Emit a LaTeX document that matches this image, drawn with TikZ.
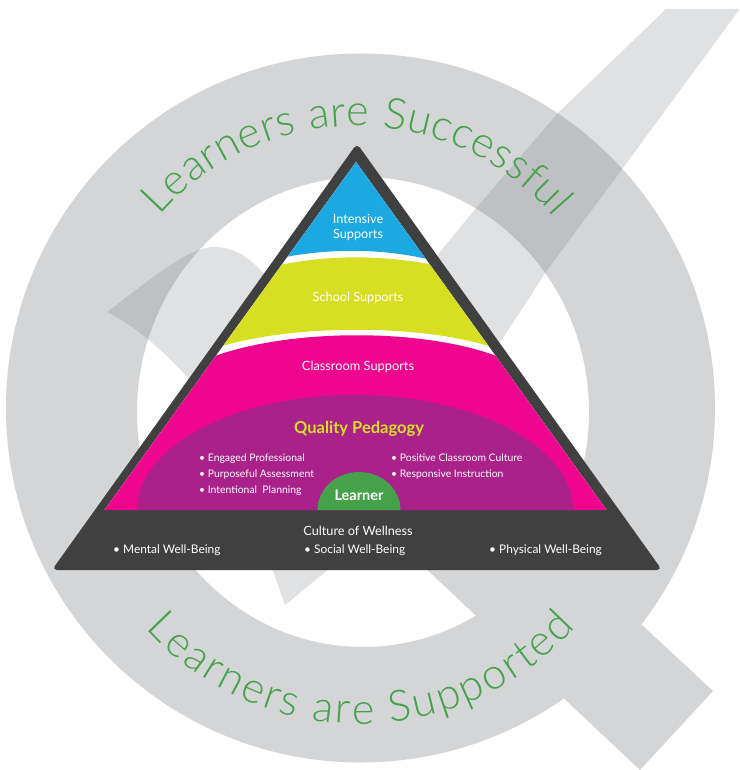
\documentclass[tikz,border=0pt]{standalone}
\usepackage{fontspec}
\setmainfont{Lato}
\newfontfamily\thinfont{Lato Light}
\usetikzlibrary{decorations.text}
\definecolor{ringc}{HTML}{D4D5D7}
\definecolor{checkc}{HTML}{E0E1E3}
\definecolor{overc}{HTML}{BFC0C4}
\definecolor{darkc}{HTML}{404041}
\definecolor{greenc}{HTML}{46A24A}
\definecolor{bluec}{HTML}{1CA9E1}
\definecolor{yellowc}{HTML}{D7DF23}
\definecolor{pinkc}{HTML}{EE068F}
\definecolor{purplec}{HTML}{AA2289}
\newcommand{\ringpath}{(360.5,408) circle[radius=354.5pt] (363,412) ellipse[x radius=226pt,y radius=235pt]}
\newcommand{\checkpath}{(107,312) .. controls (150,280) and (190,245) .. (217,247) .. controls (235,248) and (250,258) .. (263,273) -- (320,300) -- (435,258) -- (477,207) -- (558,113) -- (666,9) -- (739,9) -- (739,10) -- (623,168) -- (545,273) -- (528,300) -- (495,350) -- (330,568) -- (285,605) -- (272,568) -- (190,380) .. controls (170,358) and (140,328) .. (107,312) -- cycle}
\tikzset{
  lab/.style={text=white,font=\fontsize{#1}{#1}\selectfont,inner sep=0pt},
  itemlab/.style={lab=#1,anchor=base west},
  arcgreen/.style={decorate,decoration={text along path,text align={fit to path},text color=greenc,text={#1}}}
}
\begin{document}
\begin{tikzpicture}[x=1pt,y=-1pt]
\useasboundingbox (0,0) rectangle (739,770);
\fill[white] (0,0) rectangle (739,770);
% check mark
\fill[checkc] \checkpath;
% Q ring and tail
\fill[ringc,even odd rule] \ringpath;
\fill[ringc] (640,623) -- (713,691) -- (640,770) -- (420,563) -- (450,520) -- (565,548) -- cycle;
\begin{scope}
  \clip \checkpath;
  \fill[overc,even odd rule] \ringpath;
\end{scope}
% arc titles
\path[arcgreen={|\thinfont\fontsize{43}{43}\selectfont|Learners are Successful}] (159.8,215.4) arc[start angle=139,end angle=40.5,radius=260pt];
\path[arcgreen={|\thinfont\fontsize{43}{43}\selectfont|Learners are Supported}] (146,628.7) arc[start angle=222,end angle=318.5,radius=288pt];
% pyramid
\fill[darkc,rounded corners=5pt] (357,143.5) -- (662,570) -- (52,570) -- cycle;
\begin{scope}
  \clip (356,162) -- (606.5,510) -- (104.5,510) -- cycle;
  \fill[white] (90,150) rectangle (620,510);
  \fill[bluec] (280,258) .. controls (330,248) and (385,248) .. (435,261) -- (435,150) -- (280,150) -- cycle;
  \fill[yellowc] (275,266) .. controls (330,254) and (385,255) .. (440,266) -- (510,354) .. controls (440,322) and (280,322) .. (205,352) -- cycle;
  \fill[pinkc] (200,362) .. controls (280,326) and (440,326) .. (515,364) -- (620,510) -- (90,510) -- cycle;
  \fill[purplec] (355,510) ellipse[x radius=218pt,y radius=115pt];
  \fill[greenc] (359,510) ellipse[x radius=41.5pt,y radius=38pt];
\end{scope}
% labels
\node[lab=12.7,align=center] (intensive) at (358,227.5) {Intensive\\[1.5pt]Supports};
\node[lab=12.7] (school) at (358,298) {School Supports};
\node[lab=12.8] (classroom) at (358,367) {Classroom Supports};
\node[lab=16.5,text=yellowc] (quality) at (359,428.5) {\bfseries Quality Pedagogy};
\node[itemlab=10.4] (i1) at (199,461) {• Engaged Professional};
\node[itemlab=10.4] (i2) at (199,477) {• Purposeful Assessment};
\node[itemlab=10.4] (i3) at (199,493.5) {• Intentional~ Planning};
\node[itemlab=10.4] (i4) at (391,461) {• Positive Classroom Culture};
\node[itemlab=10.4] (i5) at (391,477) {• Responsive Instruction};
\node[lab=14.5] (learner) at (359,495) {\bfseries Learner};
\node[lab=12.7] (wellness) at (358,531) {Culture of Wellness};
\node[itemlab=11.9] (w1) at (113,553) {• Mental Well-Being};
\node[itemlab=11.9] (w2) at (304,553) {• Social Well-Being};
\node[itemlab=11.9] (w3) at (489,553) {• Physical Well-Being};
\end{tikzpicture}
\end{document}
